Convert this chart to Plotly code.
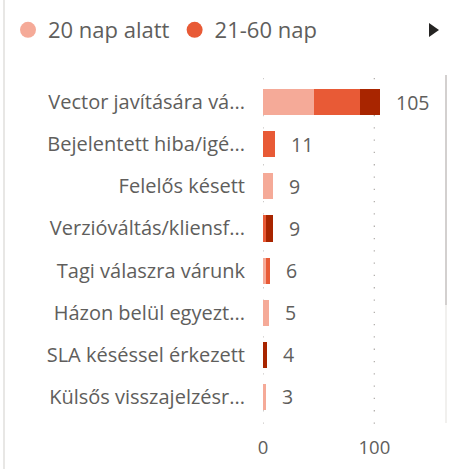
import plotly.graph_objects as go

categories = [
    "Vector javítására vá...",
    "Bejelentett hiba/igé...",
    "Felelős késett",
    "Verzióváltás/kliensf...",
    "Tagi válaszra várunk",
    "Házon belül egyezt...",
    "SLA késéssel érkezett",
    "Külsős visszajelzésr...",
]
series_names = ["20 nap alatt", "21-60 nap", "60 nap felett"]
s_under20 = [46, 0, 9, 0, 3, 5, 0, 3]
s_21_60 = [41, 11, 0, 3, 3, 0, 0, 0]
s_over60 = [18, 0, 0, 6, 0, 0, 4, 0]
x_ticks = [0, 100]

colors = ["#F5AA98", "#E85A36", "#A82500"]
text_color = "#605E5C"
font_family = "Segoe UI, Open Sans, Noto Sans, sans-serif"

totals = [a + b + c for a, b, c in zip(s_under20, s_21_60, s_over60)]

PL, PR, PT, PB = 263, 430, 81, 418
pw = PR - PL
ph = PB - PT
def px_x(v):
    return (v - PL) / pw
def px_y(v):
    return (PB - v) / ph

fig = go.Figure()
for name, vals, col in zip(series_names, [s_under20, s_21_60, s_over60], colors):
    fig.add_trace(go.Bar(
        y=categories, x=vals, orientation="h", name=name,
        marker=dict(color=col, line=dict(width=0)),
        showlegend=False, hoverinfo="x+name",
    ))
# legend entries as circles (only first two visible, as in reference)
for name, col in zip(series_names[:2], colors[:2]):
    fig.add_trace(go.Scatter(
        x=[None], y=[None], mode="markers", name=name,
        marker=dict(color=col, size=17, symbol="circle"),
        showlegend=True,
    ))

for cat, tot in zip(categories, totals):
    fig.add_annotation(
        x=tot, y=cat, text=str(tot), showarrow=False,
        xanchor="left", xshift=14,
        font=dict(size=19.5, color=text_color, family=font_family),
    )

def tri_path(pts):
    return "M " + " L ".join(f"{px_x(x)},{px_y(y)}" for x, y in pts) + " Z"

shapes = [
    dict(type="line", xref="paper", yref="paper", x0=px_x(4), x1=px_x(4),
         y0=px_y(0), y1=px_y(469), line=dict(color="#E1DFDD", width=1.5)),
    dict(type="line", xref="paper", yref="paper", x0=px_x(446), x1=px_x(446),
         y0=px_y(75), y1=px_y(423), line=dict(color="#EDEBE9", width=1.5)),
    dict(type="line", xref="paper", yref="paper", x0=px_x(446), x1=px_x(446),
         y0=px_y(75), y1=px_y(305), line=dict(color="#C8C6C4", width=1.5)),
    # legend pager arrow
    dict(type="path", xref="paper", yref="paper",
         path=tri_path([(429, 23), (439, 30), (429, 37)]),
         fillcolor="#252423", line=dict(width=0)),
]
# dotted gridlines at the tick values, slightly taller than the plot area
for t in x_ticks:
    shapes.append(dict(
        type="line", xref="x", yref="paper", x0=t, x1=t,
        y0=px_y(78), y1=px_y(430), layer="below",
        line=dict(color="#B3B0AD", width=1.3, dash="1.3px,11px"),
    ))

fig.update_layout(
    width=449, height=469,
    margin=dict(l=PL, r=449 - PR, t=PT, b=469 - PB, autoexpand=False),
    paper_bgcolor="white", plot_bgcolor="white",
    barmode="stack", bargap=0.38,
    font=dict(family=font_family, color=text_color),
    shapes=shapes,
    legend=dict(
        orientation="h", xref="paper", yref="paper",
        x=px_x(8), y=px_y(9), xanchor="left", yanchor="top",
        font=dict(size=22, color=text_color, family=font_family),
        itemwidth=30, tracegroupgap=0, bgcolor="rgba(0,0,0,0)",
        traceorder="normal",
    ),
    xaxis=dict(
        range=[0, 150], tickvals=x_ticks, ticktext=[str(t) for t in x_ticks],
        showgrid=False, zeroline=False, showline=False,
        tickfont=dict(size=18.5, color=text_color, family=font_family),
        ticks="outside", ticklen=13, tickcolor="rgba(0,0,0,0)",
        fixedrange=True,
    ),
    yaxis=dict(
        autorange="reversed", showgrid=False, zeroline=False, showline=False,
        ticks="outside", ticklen=13, tickcolor="rgba(0,0,0,0)",
        tickfont=dict(size=20, color=text_color, family=font_family),
        fixedrange=True,
    ),
)

fig.write_html("out.html", config={"displayModeBar": False},
               post_script="document.body.style.margin='0';")
